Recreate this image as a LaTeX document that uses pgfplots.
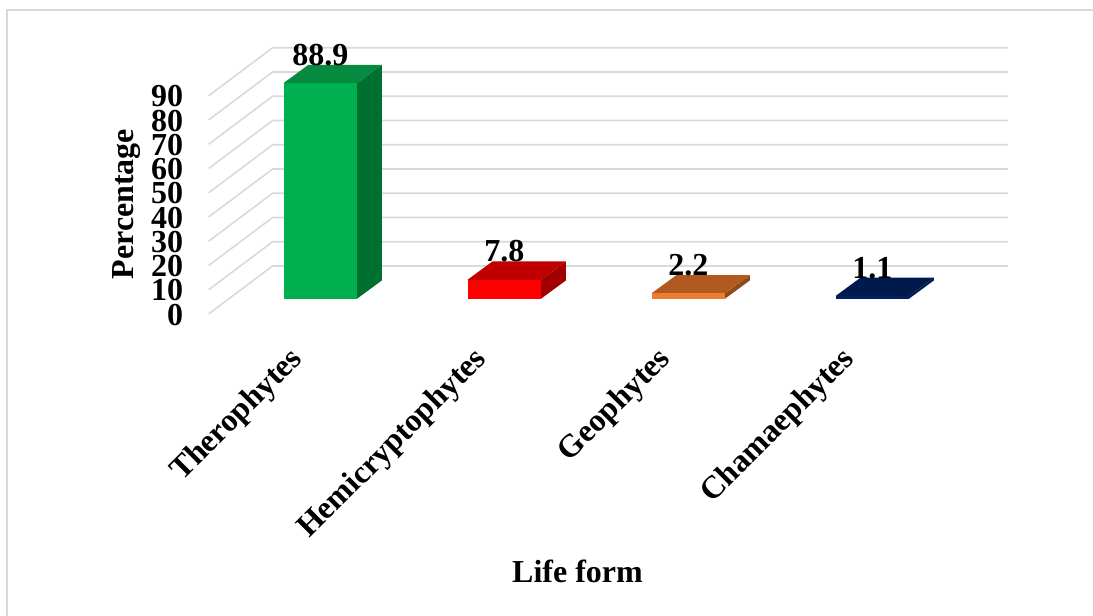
\documentclass[border=0pt]{standalone}
\usepackage{pgfplots}
\pgfplotsset{compat=1.18}
\usepackage{fontspec}
\setmainfont{Liberation Serif}
\newcommand{\chartfont}{\fontsize{32}{36}\selectfont\bfseries}
\definecolor{gridgray}{HTML}{D9D9D9}
\definecolor{greenF}{HTML}{00B050}
\definecolor{greenT}{HTML}{058A40}
\definecolor{greenS}{HTML}{007030}
\definecolor{redF}{HTML}{FF0000}
\definecolor{redT}{HTML}{C00000}
\definecolor{redS}{HTML}{A00000}
\definecolor{orangeF}{HTML}{ED7D31}
\definecolor{orangeT}{HTML}{B05A22}
\definecolor{orangeS}{HTML}{8F4A1C}
\definecolor{navyF}{HTML}{002060}
\definecolor{navyT}{HTML}{001A4D}
\definecolor{navyS}{HTML}{001A4D}
\pgfplotsset{
  gridline/.style={draw=gridgray, line width=1.6pt, forget plot, mark=none},
  face/.style={fill=#1, draw=none, forget plot, mark=none},
  front/.style={ybar, bar width=73.5pt, bar shift=0pt, fill=#1, draw=none, forget plot,
    nodes near coords,
    every node near coord/.style={anchor=base, yshift=17.8pt, text=black, font=\chartfont,
      /pgf/number format/assume math mode=true}},
}
\begin{document}
\begin{tikzpicture}[x=1pt,y=1pt]
\useasboundingbox (0,0) rectangle (1093,616);
% outer frame of the chart area
\draw[gridgray, line width=2pt] (7,0) -- (7,606) -- (1093,606);
\begin{axis}[
  at={(208.7pt,302pt)}, anchor=south west,
  scale only axis, width=799.3pt, height=284pt,
  xmin=-0.6065, xmax=3.7375,
  ymin=-6.31, ymax=110.8,
  clip=false,
  axis line style={draw=none},
  major tick length=0pt,
  xtick={0,1,2,3},
  xticklabels={Therophytes,Hemicryptophytes,Geophytes,Chamaephytes},
  ytick={0,10,...,90},
  /pgf/number format/assume math mode=true,
  tick label style={font=\chartfont},
  xticklabel style={xshift=-19.5pt, yshift=-38.5pt, rotate=45, anchor=east},
  yticklabel style={xshift=-22pt, yshift=-16pt, anchor=east},
  xlabel={Life form}, ylabel={Percentage},
  every axis x label/.style={at={(axis description cs:0.4614,-0.905)}, anchor=center, font=\chartfont},
  every axis y label/.style={at={(axis description cs:-0.1025,0.387)}, rotate=90, anchor=center, font=\chartfont},
]
% wall and floor lines: front edge, side wall, back wall
\addplot[gridline] coordinates {(-0.6065,-6.3) (-0.2587,13.5) (3.7375,13.5)};
\addplot[gridline] coordinates {(-0.6065,3.7) (-0.2587,23.5) (3.7375,23.5)};
\addplot[gridline] coordinates {(-0.6065,13.7) (-0.2587,33.5) (3.7375,33.5)};
\addplot[gridline] coordinates {(-0.6065,23.7) (-0.2587,43.5) (3.7375,43.5)};
\addplot[gridline] coordinates {(-0.6065,33.7) (-0.2587,53.5) (3.7375,53.5)};
\addplot[gridline] coordinates {(-0.6065,43.7) (-0.2587,63.5) (3.7375,63.5)};
\addplot[gridline] coordinates {(-0.6065,53.7) (-0.2587,73.5) (3.7375,73.5)};
\addplot[gridline] coordinates {(-0.6065,63.7) (-0.2587,83.5) (3.7375,83.5)};
\addplot[gridline] coordinates {(-0.6065,73.7) (-0.2587,93.5) (3.7375,93.5)};
\addplot[gridline] coordinates {(-0.6065,83.7) (-0.2587,103.5) (3.7375,103.5)};
% Therophytes
\addplot[face=greenS] coordinates {(0.1997,0) (0.335,7.55) (0.335,96.45) (0.1997,88.9)};
\addplot[face=greenT] coordinates {(-0.1997,88.9) (0.1997,88.9) (0.335,96.45) (-0.0644,96.45)};
\addplot[front=greenF] coordinates {(0,88.9)};
% Hemicryptophytes
\addplot[face=redS] coordinates {(1.1997,0) (1.335,7.55) (1.335,15.35) (1.1997,7.8)};
\addplot[face=redT] coordinates {(0.8003,7.8) (1.1997,7.8) (1.335,15.35) (0.9356,15.35)};
\addplot[front=redF] coordinates {(1,7.8)};
% Geophytes
\addplot[face=orangeS] coordinates {(2.1997,0) (2.335,7.55) (2.335,9.75) (2.1997,2.2)};
\addplot[face=orangeT] coordinates {(1.8003,2.2) (2.1997,2.2) (2.335,9.75) (1.9356,9.75)};
\addplot[front=orangeF] coordinates {(2,2.2)};
% Chamaephytes
\addplot[face=navyS] coordinates {(3.1997,0) (3.335,7.55) (3.335,8.65) (3.1997,1.1)};
\addplot[face=navyT] coordinates {(2.8003,1.1) (3.1997,1.1) (3.335,8.65) (2.9356,8.65)};
\addplot[front=navyF] coordinates {(3,1.1)};
\end{axis}
\end{tikzpicture}
\end{document}
